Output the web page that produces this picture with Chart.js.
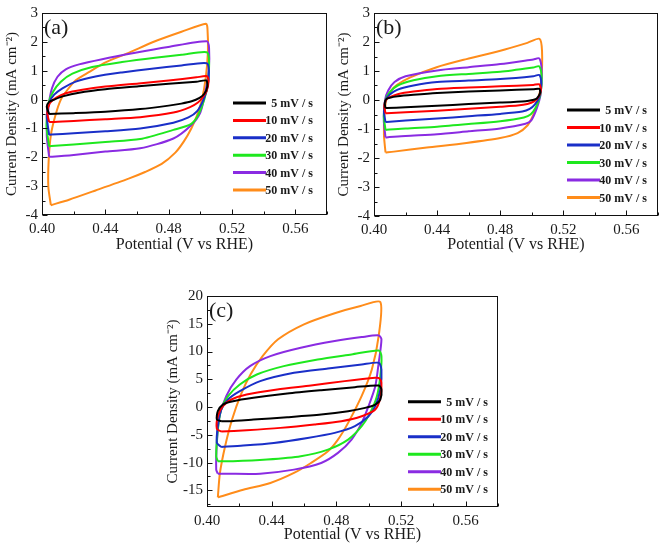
<!DOCTYPE html>
<html><head><meta charset="utf-8">
<script src="https://cdn.jsdelivr.net/npm/chart.js@4/dist/chart.umd.min.js"></script>
<style>
html,body{margin:0;padding:0;background:#fff;}
#wrap{position:relative;width:661px;height:544px;overflow:hidden;background:#fff;}
canvas{position:absolute;}
</style></head><body>
<div id="wrap">
<canvas id="pa" width="335" height="254" style="left:0;top:0;width:335px;height:254px"></canvas>
<canvas id="pb" width="326" height="254" style="left:335px;top:0;width:326px;height:254px"></canvas>
<canvas id="pc" width="345" height="274" style="left:160px;top:270px;width:345px;height:274px"></canvas>
</div>
<script>
// ---------- labels / ticks ----------
const SCAN_RATES = ['5 mV / s', '10 mV / s', '20 mV / s', '30 mV / s', '40 mV / s', '50 mV / s'];
const PANEL_LABELS = ['(a)', '(b)', '(c)'];
const X_TICKS = [0.40, 0.44, 0.48, 0.52, 0.56];
const X_MINOR = [0.42, 0.46, 0.50, 0.54, 0.58];
const Y_TICKS_AB = [-4, -3, -2, -1, 0, 1, 2, 3];
const Y_MINOR_AB = [-3.5, -2.5, -1.5, -0.5, 0.5, 1.5, 2.5];
const Y_TICKS_C = [-15, -10, -5, 0, 5, 10, 15, 20];
const Y_MINOR_C = [-17.5, -12.5, -7.5, -2.5, 2.5, 7.5, 12.5, 17.5];
const X_TITLE = 'Potential (V vs RHE)';
const Y_TITLE = 'Current Density (mA cm\u207B\u00B2)';

// ---------- panel (a) ----------
const A5_V = [0.4045, 0.4030, 0.4045, 0.4077, 0.4130, 0.4234, 0.4400, 0.4610, 0.4800, 0.4975, 0.5038, 0.5044, 0.5025, 0.4995, 0.4945, 0.4880, 0.4800, 0.4620, 0.4400, 0.4200, 0.4045];
const A5_J = [-0.50, -0.25, -0.08, 0.00, 0.11, 0.24, 0.36, 0.46, 0.55, 0.62, 0.66, 0.45, 0.20, 0.06, -0.06, -0.14, -0.21, -0.33, -0.42, -0.47, -0.50];
const A10_V = [0.4045, 0.4033, 0.4050, 0.4088, 0.4150, 0.4255, 0.4400, 0.4610, 0.4800, 0.4975, 0.5042, 0.5052, 0.5040, 0.5015, 0.4985, 0.4935, 0.4830, 0.4620, 0.4400, 0.4200, 0.4060, 0.4045];
const A10_J = [-0.77, -0.45, -0.12, 0.06, 0.22, 0.34, 0.45, 0.56, 0.66, 0.77, 0.81, 0.65, 0.30, 0.08, -0.10, -0.26, -0.45, -0.61, -0.68, -0.74, -0.78, -0.77];
const A20_V = [0.4045, 0.4030, 0.4045, 0.4077, 0.4129, 0.4213, 0.4338, 0.4505, 0.4693, 0.4881, 0.5040, 0.5054, 0.5046, 0.5020, 0.4980, 0.4925, 0.4830, 0.4620, 0.4400, 0.4200, 0.4060, 0.4045];
const A20_J = [-1.22, -0.56, -0.11, 0.17, 0.39, 0.62, 0.80, 0.94, 1.07, 1.18, 1.26, 1.00, 0.45, 0.00, -0.40, -0.62, -0.80, -1.00, -1.10, -1.17, -1.21, -1.22];
const A30_V = [0.4045, 0.4028, 0.4042, 0.4071, 0.4119, 0.4192, 0.4317, 0.4505, 0.4714, 0.4881, 0.5040, 0.5055, 0.5048, 0.5025, 0.4985, 0.4940, 0.4830, 0.4620, 0.4400, 0.4200, 0.4060, 0.4045];
const A30_J = [-1.62, -0.90, -0.11, 0.28, 0.62, 0.90, 1.13, 1.30, 1.45, 1.55, 1.64, 1.35, 0.60, 0.00, -0.55, -0.85, -1.05, -1.37, -1.47, -1.56, -1.61, -1.62];
const A40_V = [0.4045, 0.4030, 0.4042, 0.4063, 0.4098, 0.4150, 0.4234, 0.4380, 0.4589, 0.4797, 0.5040, 0.5055, 0.5053, 0.5030, 0.5000, 0.4940, 0.4830, 0.4620, 0.4400, 0.4200, 0.4065, 0.4045];
const A40_J = [-1.98, -1.23, -0.22, 0.39, 0.79, 1.05, 1.22, 1.40, 1.62, 1.82, 2.02, 1.79, 1.00, 0.23, -0.45, -0.90, -1.35, -1.69, -1.80, -1.92, -1.98, -1.98];
const A50_V = [0.4056, 0.4040, 0.4042, 0.4056, 0.4084, 0.4119, 0.4161, 0.4213, 0.4296, 0.4401, 0.4547, 0.4714, 0.4881, 0.5036, 0.5045, 0.5048, 0.5035, 0.5010, 0.4978, 0.4943, 0.4896, 0.4842, 0.4756, 0.4651, 0.4547, 0.4338, 0.4171, 0.4056];
const A50_J = [-3.66, -3.02, -2.12, -1.23, -0.56, 0.00, 0.34, 0.67, 0.95, 1.29, 1.62, 2.02, 2.35, 2.63, 2.46, 1.68, 0.79, 0.00, -0.56, -1.00, -1.45, -1.84, -2.23, -2.51, -2.74, -3.15, -3.47, -3.66];

// ---------- panel (b) ----------
const B5_V = [0.4073, 0.4068, 0.4078, 0.4100, 0.4150, 0.4250, 0.4400, 0.4600, 0.4800, 0.5010, 0.5048, 0.5053, 0.5032, 0.5005, 0.4960, 0.4800, 0.4600, 0.4400, 0.4200, 0.4080, 0.4073];
const B5_J = [-0.28, -0.10, 0.03, 0.08, 0.13, 0.18, 0.24, 0.29, 0.33, 0.37, 0.38, 0.25, 0.05, 0.00, -0.04, -0.09, -0.14, -0.20, -0.25, -0.28, -0.28];
const B10_V = [0.4073, 0.4065, 0.4078, 0.4100, 0.4150, 0.4250, 0.4400, 0.4600, 0.4800, 0.5010, 0.5048, 0.5058, 0.5042, 0.5015, 0.4972, 0.4910, 0.4800, 0.4600, 0.4400, 0.4200, 0.4080, 0.4073];
const B10_J = [-0.46, -0.20, 0.02, 0.10, 0.20, 0.29, 0.38, 0.43, 0.47, 0.52, 0.54, 0.35, 0.10, -0.05, -0.14, -0.19, -0.23, -0.30, -0.37, -0.42, -0.46, -0.46];
const B20_V = [0.4073, 0.4063, 0.4075, 0.4100, 0.4150, 0.4250, 0.4400, 0.4600, 0.4800, 0.5010, 0.5048, 0.5060, 0.5048, 0.5020, 0.4987, 0.4940, 0.4800, 0.4600, 0.4400, 0.4200, 0.4080, 0.4073];
const B20_J = [-0.76, -0.40, 0.00, 0.19, 0.36, 0.50, 0.62, 0.67, 0.72, 0.82, 0.86, 0.55, 0.10, -0.15, -0.31, -0.40, -0.48, -0.56, -0.64, -0.71, -0.76, -0.76];
const B30_V = [0.4073, 0.4062, 0.4073, 0.4100, 0.4150, 0.4250, 0.4400, 0.4600, 0.4800, 0.5010, 0.5048, 0.5063, 0.5053, 0.5026, 0.4992, 0.4950, 0.4800, 0.4600, 0.4400, 0.4200, 0.4080, 0.4073];
const B30_J = [-1.03, -0.55, 0.00, 0.27, 0.50, 0.68, 0.82, 0.90, 0.97, 1.12, 1.16, 0.75, 0.15, -0.25, -0.50, -0.60, -0.73, -0.83, -0.92, -0.98, -1.03, -1.03];
const B40_V = [0.4073, 0.4062, 0.4070, 0.4090, 0.4130, 0.4200, 0.4400, 0.4600, 0.4800, 0.5010, 0.5048, 0.5063, 0.5056, 0.5031, 0.4997, 0.4960, 0.4800, 0.4600, 0.4400, 0.4200, 0.4080, 0.4073];
const B40_J = [-1.29, -0.70, 0.00, 0.33, 0.62, 0.82, 1.02, 1.13, 1.24, 1.40, 1.43, 1.00, 0.20, -0.30, -0.70, -0.82, -0.98, -1.08, -1.18, -1.24, -1.29, -1.29];
const B50_V = [0.4073, 0.4063, 0.4067, 0.4079, 0.4105, 0.4146, 0.4230, 0.4397, 0.4586, 0.4795, 0.4972, 0.5049, 0.5065, 0.5060, 0.5038, 0.5008, 0.4974, 0.4910, 0.4800, 0.4586, 0.4335, 0.4126, 0.4073];
const B50_J = [-1.81, -1.20, -0.42, 0.02, 0.30, 0.52, 0.78, 1.13, 1.41, 1.69, 1.97, 2.11, 1.69, 0.69, -0.09, -0.53, -0.87, -1.14, -1.31, -1.48, -1.64, -1.78, -1.81];

// ---------- panel (c) ----------
const C5_V = [0.4088, 0.4061, 0.4067, 0.4098, 0.4161, 0.4287, 0.4496, 0.4706, 0.4915, 0.5062, 0.5079, 0.5072, 0.5041, 0.4978, 0.4873, 0.4706, 0.4496, 0.4287, 0.4130, 0.4088];
const C5_J = [-2.55, -2.25, -0.75, 0.45, 1.05, 1.66, 2.44, 3.04, 3.58, 3.88, 3.16, 1.36, 0.45, -0.15, -0.75, -1.35, -1.83, -2.25, -2.55, -2.55];
const C10_V = [0.4088, 0.4061, 0.4067, 0.4098, 0.4151, 0.4245, 0.4434, 0.4643, 0.4852, 0.5041, 0.5065, 0.5079, 0.5072, 0.5041, 0.4957, 0.4831, 0.4664, 0.4454, 0.4245, 0.4088];
const C10_J = [-4.41, -3.93, -1.65, 0.15, 1.36, 2.26, 3.16, 3.88, 4.67, 5.27, 5.20, 4.37, 1.66, -0.45, -1.65, -2.55, -3.15, -3.75, -4.17, -4.41];
const C20_V = [0.4088, 0.4061, 0.4067, 0.4088, 0.4130, 0.4203, 0.4329, 0.4538, 0.4748, 0.4957, 0.5062, 0.5079, 0.5072, 0.5041, 0.4999, 0.4915, 0.4790, 0.4622, 0.4413, 0.4224, 0.4088];
const C20_J = [-7.18, -6.46, -3.45, -0.45, 1.36, 2.86, 4.67, 6.17, 6.95, 7.67, 7.97, 6.77, 3.16, 0.15, -1.65, -3.45, -4.65, -5.56, -6.46, -6.94, -7.18];
const C30_V = [0.4067, 0.4057, 0.4067, 0.4088, 0.4130, 0.4203, 0.4308, 0.4475, 0.4685, 0.4894, 0.5062, 0.5079, 0.5072, 0.5051, 0.5009, 0.4957, 0.4873, 0.4748, 0.4580, 0.4371, 0.4161, 0.4067];
const C30_J = [-9.77, -8.86, -4.05, -0.45, 1.96, 4.07, 5.87, 7.37, 8.57, 9.48, 10.20, 9.18, 5.57, 1.96, -1.05, -3.45, -5.86, -7.66, -8.86, -9.46, -9.77, -9.77];
const C40_V = [0.4067, 0.4057, 0.4061, 0.4077, 0.4119, 0.4182, 0.4266, 0.4392, 0.4580, 0.4790, 0.4957, 0.5062, 0.5079, 0.5062, 0.5041, 0.4999, 0.4957, 0.4894, 0.4810, 0.4706, 0.4538, 0.4329, 0.4119, 0.4067];
const C40_J = [-12.0, -11.27, -6.46, -1.65, 1.96, 4.97, 7.37, 9.18, 10.68, 11.88, 12.60, 12.90, 12.20, 7.97, 3.76, 0.15, -2.85, -5.86, -8.26, -10.07, -11.27, -12.0, -12.0, -12.0];
const C50_V = [0.4067, 0.4080, 0.4112, 0.4155, 0.4210, 0.4270, 0.4345, 0.4440, 0.4600, 0.4790, 0.4950, 0.5072, 0.5062, 0.5020, 0.4957, 0.4873, 0.4810, 0.4748, 0.4643, 0.4538, 0.4392, 0.4224, 0.4067];
const C50_J = [-16.26, -11.87, -7.06, -2.25, 2.30, 5.90, 9.20, 12.20, 14.90, 16.90, 18.20, 18.90, 12.80, 6.80, 2.00, -2.85, -5.86, -7.96, -10.07, -11.87, -13.67, -14.90, -16.26];

// ---------- styling ----------
const COLORS = ['#000000', '#ff0000', '#1a2fc8', '#1ee81e', '#8a2be2', '#ff8c1a'];
const SERIF = '"Liberation Serif", "Times New Roman", serif';
const TXT = '#1a1a1a';

function pts(v, j) { return v.map((x, i) => ({ x: x, y: j[i] })); }

function makePanel(id, series, o) {
  const datasets = series.map((s, i) => ({
    label: SCAN_RATES[i],
    data: pts(s[0], s[1]),
    borderColor: COLORS[i],
    borderWidth: 2,
    pointRadius: 0,
    showLine: true,
    fill: false,
    tension: 0.25
  }));
  const deco = {
    id: 'deco' + id,
    afterDraw(chart) {
      const ctx = chart.ctx, a = chart.chartArea;
      const xs = chart.scales.x, ys = chart.scales.y;
      ctx.save();
      ctx.strokeStyle = '#111';
      ctx.lineWidth = 1;
      ctx.strokeRect(Math.round(a.left) + 0.5, Math.round(a.top) + 0.5,
                     Math.round(a.right - a.left) - 1, Math.round(a.bottom - a.top) - 1);
      ctx.beginPath();
      const bx = Math.round(a.bottom) - 0.5, lx = Math.round(a.left) + 0.5;
      X_TICKS.forEach(v => { const p = Math.round(xs.getPixelForValue(v)) + 0.5; ctx.moveTo(p, bx); ctx.lineTo(p, bx - 5); });
      X_MINOR.forEach(v => { const p = Math.round(xs.getPixelForValue(v)) + 0.5; ctx.moveTo(p, bx); ctx.lineTo(p, bx - 3); });
      o.yTicks.forEach(v => { const p = Math.round(ys.getPixelForValue(v)) + 0.5; ctx.moveTo(lx, p); ctx.lineTo(lx + 5, p); });
      o.yMinor.forEach(v => { const p = Math.round(ys.getPixelForValue(v)) + 0.5; ctx.moveTo(lx, p); ctx.lineTo(lx + 3, p); });
      ctx.stroke();
      ctx.fillStyle = TXT;
      ctx.font = '22px ' + SERIF;
      ctx.textAlign = 'left';
      ctx.textBaseline = 'middle';
      ctx.fillText(o.label, a.left + 2, a.top + 15);
      const L = o.legend;
      ctx.font = 'bold 12px ' + SERIF;
      ctx.textAlign = 'right';
      chart.data.datasets.forEach((d, i) => {
        const y = L.y0 + i * L.dy;
        ctx.strokeStyle = d.borderColor;
        ctx.lineWidth = 3;
        ctx.beginPath();
        ctx.moveTo(L.x0, y); ctx.lineTo(L.x1, y);
        ctx.stroke();
        ctx.fillStyle = TXT;
        ctx.fillText(d.label, L.tx, y + 1);
      });
      ctx.restore();
    }
  };
  return new Chart(document.getElementById(id), {
    type: 'scatter',
    data: { datasets: datasets },
    options: {
      responsive: false,
      animation: false,
      devicePixelRatio: 1,
      layout: { padding: o.pad },
      plugins: { legend: { display: false }, tooltip: { enabled: false } },
      scales: {
        x: {
          type: 'linear', min: 0.40, max: 0.58,
          afterBuildTicks: s => { s.ticks = X_TICKS.map(v => ({ value: v })); },
          afterFit: s => { s.height = o.xh; },
          grid: { display: false, drawTicks: false },
          border: { display: false },
          ticks: { padding: 5, color: TXT, font: { family: SERIF, size: 15 }, callback: v => Number(v).toFixed(2), maxRotation: 0, autoSkip: false },
          title: { display: true, text: X_TITLE, color: TXT, font: { family: SERIF, size: 16 }, padding: { top: 0, bottom: 0 } }
        },
        y: {
          type: 'linear', min: o.yMin, max: o.yMax,
          afterBuildTicks: s => { s.ticks = o.yTicks.map(v => ({ value: v })); },
          afterFit: s => { s.width = o.yw; },
          grid: { display: false, drawTicks: false },
          border: { display: false },
          ticks: { padding: 4, color: TXT, font: { family: SERIF, size: 15 }, callback: v => String(v), autoSkip: false },
          title: { display: true, text: Y_TITLE, color: TXT, font: { family: SERIF, size: 15 }, padding: { top: o.ytp, bottom: 0 } }
        }
      }
    },
    plugins: [deco]
  });
}

makePanel('pa', [[A5_V, A5_J], [A10_V, A10_J], [A20_V, A20_J], [A30_V, A30_J], [A40_V, A40_J], [A50_V, A50_J]], {
  yMin: -4, yMax: 3, yTicks: Y_TICKS_AB, yMinor: Y_MINOR_AB, label: PANEL_LABELS[0],
  pad: { left: 0, top: 8, right: 8, bottom: 0 }, yw: 42, xh: 39, ytp: 3,
  legend: { x0: 233, x1: 266, tx: 313, y0: 103, dy: 17.4 }
});
makePanel('pb', [[B5_V, B5_J], [B10_V, B10_J], [B20_V, B20_J], [B30_V, B30_J], [B40_V, B40_J], [B50_V, B50_J]], {
  yMin: -4, yMax: 3, yTicks: Y_TICKS_AB, yMinor: Y_MINOR_AB, label: PANEL_LABELS[1],
  pad: { left: 0, top: 8, right: 3, bottom: 0 }, yw: 39, xh: 38, ytp: 0,
  legend: { x0: 232, x1: 265, tx: 312, y0: 110, dy: 17.5 }
});
makePanel('pc', [[C5_V, C5_J], [C10_V, C10_J], [C20_V, C20_J], [C30_V, C30_J], [C40_V, C40_J], [C50_V, C50_J]], {
  yMin: -18, yMax: 20, yTicks: Y_TICKS_C, yMinor: Y_MINOR_C, label: PANEL_LABELS[2],
  pad: { left: 0, top: 26, right: 7, bottom: 0 }, yw: 47, xh: 37, ytp: 4,
  legend: { x0: 248, x1: 281, tx: 328, y0: 131.7, dy: 17.5 }
});
</script>
</body></html>
